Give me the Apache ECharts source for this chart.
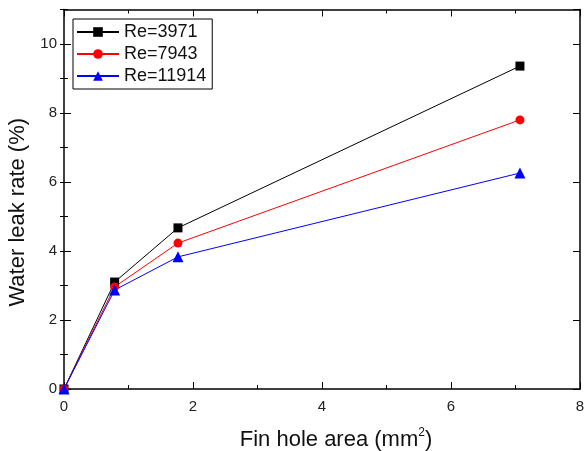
<!DOCTYPE html>
<html>
<head>
<meta charset="utf-8">
<script src="https://cdn.jsdelivr.net/npm/echarts@6/dist/echarts.min.js"></script>
<style>
  html, body { margin: 0; padding: 0; background: #fff; }
  #chart { width: 584px; height: 451px; }
</style>
</head>
<body>
<div id="chart"></div>
<script>
// Fin hole area (mm^2) for each measured geometry
const holeArea = [0, 0.785, 1.767, 7.069];
// Water leak rate (%) at each Reynolds number
const re3971 = [0, 3.10, 4.67, 9.36];
const re7943 = [0, 2.96, 4.23, 7.80];
const re11914 = [0, 2.87, 3.83, 6.26];
const seriesNames = ['Re=3971', 'Re=7943', 'Re=11914'];

const FONT = '"Liberation Sans", Arial, sans-serif';
const pairs = ys => holeArea.map((x, i) => [x, ys[i]]);

const chart = echarts.init(document.getElementById('chart'), null, { renderer: 'canvas' });

const lineCol = '#000';
function frameAxis(pos, opts) {
  return Object.assign({
    type: 'value',
    position: pos,
    axisLine: { show: true, onZero: false, lineStyle: { color: lineCol, width: 1.5 } },
    axisTick: { show: true, inside: true, length: 7, lineStyle: { color: lineCol, width: 1 } },
    axisLabel: { show: false },
    splitLine: { show: false }
  }, opts);
}

const option = {
  animation: false,
  backgroundColor: '#fff',
  grid: { left: 64, right: 4, top: 9.5, bottom: 62, containLabel: false, outerBoundsMode: 'none' },
  xAxis: [
    frameAxis('bottom', {
      min: 0, max: 8, interval: 2,
      minorTick: { show: true, splitNumber: 2, length: 4, lineStyle: { color: lineCol, width: 1 } },
      axisLabel: { show: true, color: '#222', fontFamily: FONT, fontSize: 15, margin: 10 },
      name: '{a|Fin hole area (mm}{s|2}{a|)}',
      nameLocation: 'middle',
      nameGap: 38,
      nameTextStyle: {
        padding: [0, 0, 0, 28],
        rich: {
          a: { fontFamily: FONT, fontSize: 22, color: '#111', verticalAlign: 'bottom', lineHeight: 24 },
          s: { fontFamily: FONT, fontSize: 12, color: '#111', verticalAlign: 'top', lineHeight: 24, padding: [0, 0, 11, 0] }
        }
      }
    }),
    frameAxis('top', {
      min: 0, max: 8, interval: 2,
      minorTick: { show: true, splitNumber: 2, length: 4, lineStyle: { color: lineCol, width: 1 } }
    })
  ],
  yAxis: [
    frameAxis('left', {
      min: 0, max: 11, interval: 2,
      axisLabel: { show: true, color: '#222', fontFamily: FONT, fontSize: 15, margin: 7, showMaxLabel: false },
      name: 'Water leak rate (%)',
      nameLocation: 'middle',
      nameGap: 33,
      nameTextStyle: { fontFamily: FONT, fontSize: 22, color: '#111', padding: [0, 26, 0, 0] }
    }),
    frameAxis('left', {
      min: 0, max: 11, interval: 1,
      axisLine: { show: false },
      axisTick: { show: true, inside: true, length: 4, lineStyle: { color: lineCol, width: 1 } }
    }),
    frameAxis('right', { min: 0, max: 11, interval: 2 }),
    frameAxis('right', {
      min: 0, max: 11, interval: 1,
      axisLine: { show: false },
      axisTick: { show: true, inside: true, length: 4, lineStyle: { color: lineCol, width: 1 } }
    })
  ],
  legend: {
    orient: 'vertical',
    left: 73,
    top: 19,
    padding: [2, 6, 2, 3],
    itemGap: 0,
    itemWidth: 42,
    itemHeight: 12,
    borderColor: '#000',
    borderWidth: 1,
    backgroundColor: '#fff',
    data: seriesNames,
    textStyle: { fontFamily: FONT, fontSize: 18, color: '#111', lineHeight: 22, padding: [0, 0, 0, 0] }
  },
  series: [
    {
      name: seriesNames[0], type: 'line', data: pairs(re3971),
      symbol: 'rect', symbolSize: 9,
      itemStyle: { color: '#000' }, lineStyle: { color: '#000', width: 1 }
    },
    {
      name: seriesNames[1], type: 'line', data: pairs(re7943),
      symbol: 'circle', symbolSize: 9,
      itemStyle: { color: '#ff0000' }, lineStyle: { color: '#ff0000', width: 1 }
    },
    {
      name: seriesNames[2], type: 'line', data: pairs(re11914),
      symbol: 'triangle', symbolSize: 11,
      itemStyle: { color: '#0000ff' }, lineStyle: { color: '#0000ff', width: 1 }
    }
  ]
};

chart.setOption(option);
</script>
</body>
</html>
